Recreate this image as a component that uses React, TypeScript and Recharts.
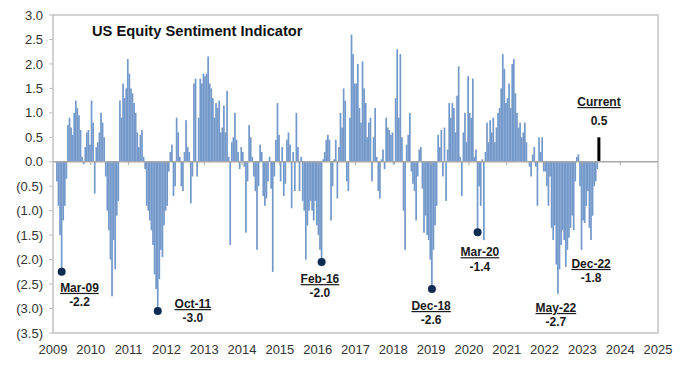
import { ComposedChart, Bar, XAxis, YAxis, ReferenceLine, ReferenceArea, ReferenceDot } from "recharts";

// semi-monthly readings of the indicator, 24 slots per calendar year
const y2009 = [null, null, -0.4, -0.9, -1.5, -2.2, -1.2, -0.9, -0.35, 0.75, 0.9, 0.7, 0.55, 1.0, 1.25, 1.1, 0.95, 0.65, 0.1, -0.05, 0.3, 0.6, 0.65, 0.35];
const y2010 = [1.25, 0.8, -0.65, 0.3, 0.4, 0.6, 1.0, 0.8, 0.5, -0.3, -1.0, -1.4, -2.0, -2.75, -1.6, -2.2, -1.1, -0.8, 1.25, 0.9, 1.6, 1.3, 1.5, 2.1];
const y2011 = [1.8, 1.5, 1.4, 1.2, 1.0, 0.6, 0.3, 0.55, 0.65, 0.1, -0.15, -0.9, -1.0, -1.2, -1.4, -1.7, -2.3, -2.6, -3.0, -2.4, -1.8, -1.95, -1.3, -1.0];
const y2012 = [-0.9, -0.2, 0.2, 0.35, -0.7, -0.5, 0.9, 0.6, 0.1, -0.5, -0.6, 0.2, 0.85, 0.3, 0.2, -0.85, -0.3, 1.6, 1.7, -0.3, 0.9, 1.7, 1.6, 1.8];
const y2013 = [1.75, 1.8, 2.15, 1.6, 1.5, 1.3, 0.9, 1.2, 1.1, 1.25, 0.6, 0.7, 1.15, 0.6, 1.45, 0.1, -1.7, 0.4, 0.5, 1.0, 0.45, 0.2, -0.15, 0.3];
const y2014 = [0.2, -0.1, -1.45, -0.4, 0.75, 0.5, 0.1, -0.3, -0.6, -1.8, -0.5, 0.35, 0.2, -0.7, -0.9, -0.75, -0.4, 0.1, -0.55, -2.25, -0.3, 0.45, 1.2, 0.55];
const y2015 = [-0.4, 0.3, -0.7, -0.45, 0.45, 0.6, 0.35, -0.95, 0.2, -0.6, 1.0, 0.3, -0.6, 0.1, -0.8, -1.0, -2.0, -1.3, -1.0, -0.8, -1.0, -1.2, -0.8, -1.3];
const y2016 = [-1.5, -1.8, -2.0, 0.05, 0.2, 0.45, 0.55, 0.45, -1.2, -0.5, 0.05, 0.45, -0.75, 0.3, 1.0, 0.7, 1.5, 1.25, -0.4, -0.6, 0.9, 2.6, 2.2, 1.6];
const y2017 = [1.6, 2.0, 1.1, 0.8, 2.05, 1.5, 1.2, 0.5, 0.8, 0.9, -0.4, 0.5, 1.1, 0.1, -0.6, -0.75, 0.05, 0.25, -0.15, 0.9, 0.7, 0.65, 0.55, 0.6];
const y2018 = [-0.05, 1.3, 2.3, 0.9, 2.2, 0.5, -1.0, -1.8, 0.35, 0.55, 1.0, -0.2, -0.45, -0.6, -1.2, -0.3, 0.25, 0.3, -0.55, -1.45, -1.1, -1.5, -1.6, -2.0];
const y2019 = [-2.55, -1.8, -1.3, -0.9, 0.55, 0.3, 0.65, -0.3, 0.7, -0.8, 0.25, 1.2, 0.9, 1.2, 1.1, 0.6, 1.35, 1.95, 0.1, -0.7, 0.6, 1.0, 0.4, 1.75];
const y2020 = [1.0, 0.9, 1.7, 0.1, 0.25, -1.4, -0.5, -0.9, 0.05, -1.6, 0.2, 0.8, 0.4, 0.85, 0.6, 0.9, 0.4, 0.7, 1.0, 1.1, 1.5, 2.2, 1.9, 1.2];
const y2021 = [1.3, 1.6, 1.1, 2.0, 2.1, 1.4, 1.0, 0.7, 0.8, 0.5, 0.6, 0.8, 0.4, 0.0, -0.1, -0.3, 0.15, 0.3, -0.1, -0.9, 0.5, 0.2, 0.5, -0.2];
const y2022 = [-0.2, -0.5, -0.9, -0.3, -1.35, -1.6, -1.3, -2.1, -2.7, -2.2, -1.7, -1.4, -1.6, -2.15, -1.8, -1.55, -1.35, -1.1, -1.4, -0.4, 0.1, 0.15, -0.5, -1.8];
const y2023 = [-1.2, -1.25, -0.9, -0.6, -1.35, -1.6, -1.1, -0.5, -0.4, -0.15];

const seriesByYear = [y2009, y2010, y2011, y2012, y2013, y2014, y2015, y2016, y2017, y2018, y2019, y2020, y2021, y2022, y2023];
const firstYear = 2009;
const currentValue = 0.5;
const currentSlot = 10; // slot in 2023

const yearTicks = [2009, 2010, 2011, 2012, 2013, 2014, 2015, 2016, 2017, 2018, 2019, 2020, 2021, 2022, 2023, 2024, 2025];
const valueTicks = [-3.5, -3, -2.5, -2, -1.5, -1, -0.5, 0, 0.5, 1, 1.5, 2, 2.5, 3];

// marked lows (dot at the bottom of the bar)
const lows = [
  { t: 2009 + 5.5 / 24, v: -2.25 },
  { t: 2011 + 18.5 / 24, v: -3.05 },
  { t: 2016 + 2.5 / 24, v: -2.05 },
  { t: 2019 + 0.5 / 24, v: -2.6 },
  { t: 2020 + 5.5 / 24, v: -1.44 },
];

// callout text anchors (center / baseline of the date line, in data units)
const callouts = [
  { date: "Mar-09", value: "-2.2", t: 2009.7, v: -2.66, gap: 14 },
  { date: "Oct-11", value: "-3.0", t: 2012.7, v: -2.99, gap: 14 },
  { date: "Feb-16", value: "-2.0", t: 2016.06, v: -2.48, gap: 14 },
  { date: "Dec-18", value: "-2.6", t: 2019.0, v: -3.03, gap: 14 },
  { date: "Mar-20", value: "-1.4", t: 2020.29, v: -1.93, gap: 15 },
  { date: "May-22", value: "-2.7", t: 2022.3, v: -3.07, gap: 14 },
  { date: "Dec-22", value: "-1.8", t: 2023.23, v: -2.17, gap: 14 },
  { date: "Current", value: "0.5", t: 2023.44, v: 1.14, gap: 19 },
];

const BLUE = "#7398ca";
const FONT = "'Liberation Sans', Arial, sans-serif";

type Row = { t: number; v: number; current?: boolean };

const data: Row[] = [];
seriesByYear.forEach((vals, k) => {
  vals.forEach((v, i) => {
    if (v !== null) data.push({ t: firstYear + k + (i + 0.5) / 24, v });
  });
});
data.push({ t: 2023 + (currentSlot + 0.5) / 24, v: currentValue, current: true });

const fmtValue = (v: number) => (v < 0 ? `(${(-v).toFixed(1)})` : v.toFixed(1));

function BarShape(p: any) {
  const { x, y, width, height, payload } = p;
  const top = Math.min(y, y + height);
  const h = Math.abs(height);
  const cx = x + width / 2;
  if (payload && payload.current) {
    return <rect x={cx - 1.5} y={top} width={3} height={h} fill="#000" />;
  }
  return <rect x={cx - 0.85} y={top} width={1.7} height={h} fill={BLUE} />;
}

export default function App() {
  return (
    <div style={{ position: "absolute", left: 0, top: 0, width: 680, height: 367, background: "#fff", fontFamily: FONT }}>
      <ComposedChart width={680} height={367} data={data} margin={{ top: 15, right: 22, bottom: 4, left: 0 }}>
        <ReferenceArea x1={2009} x2={2025} y1={-3.5} y2={3} fill="none" stroke="#c4c4c4" strokeWidth={1.5} />
        <XAxis
          type="number"
          dataKey="t"
          domain={[2009, 2025]}
          ticks={yearTicks}
          interval={0}
          axisLine={false}
          tickLine={false}
          tickSize={0}
          tickMargin={12}
          height={30}
          tick={{ fontSize: 13, fill: "#333", fontFamily: FONT }}
        />
        <YAxis
          type="number"
          domain={[-3.5, 3]}
          ticks={valueTicks}
          interval={0}
          width={53}
          axisLine={false}
          tickLine={{ stroke: "#bfbfbf" }}
          tickSize={4}
          tickMargin={6}
          tickFormatter={fmtValue}
          tick={{ fontSize: 13, fill: "#333", fontFamily: FONT }}
        />
        <Bar dataKey="v" barSize={1.5} isAnimationActive={false} shape={BarShape} />
        <ReferenceLine y={0} stroke="#a8a8a8" strokeWidth={1.5} />
        {yearTicks.slice(1, -1).map((yr) => (
          <ReferenceLine
            key={yr}
            segment={[
              { x: yr, y: 0 },
              { x: yr, y: -0.07 },
            ]}
            stroke="#a8a8a8"
            strokeWidth={1}
          />
        ))}
        {lows.map((d, i) => (
          <ReferenceDot key={"low" + i} x={d.t} y={d.v} r={4} fill="#0e2c52" stroke="none" />
        ))}
        {callouts.map((c) => (
          <ReferenceDot
            key={c.date}
            x={c.t}
            y={c.v}
            r={0}
            shape={(p: any) => (
              <g>
                <text
                  x={p.cx}
                  y={p.cy}
                  textAnchor="middle"
                  fontSize={12}
                  fontWeight="bold"
                  fontFamily={FONT}
                  fill="#1a1a1a"
                  textDecoration="underline"
                >
                  {c.date}
                </text>
                <text x={p.cx} y={p.cy + c.gap} textAnchor="middle" fontSize={12} fontWeight="bold" fontFamily={FONT} fill="#1a1a1a">
                  {c.value}
                </text>
              </g>
            )}
          />
        ))}
      </ComposedChart>
      <div
        style={{
          position: "absolute",
          left: 92,
          top: 24,
          fontSize: 14.7,
          lineHeight: "14.7px",
          fontWeight: "bold",
          color: "#111",
          whiteSpace: "nowrap",
        }}
      >
        US Equity Sentiment Indicator
      </div>
    </div>
  );
}
